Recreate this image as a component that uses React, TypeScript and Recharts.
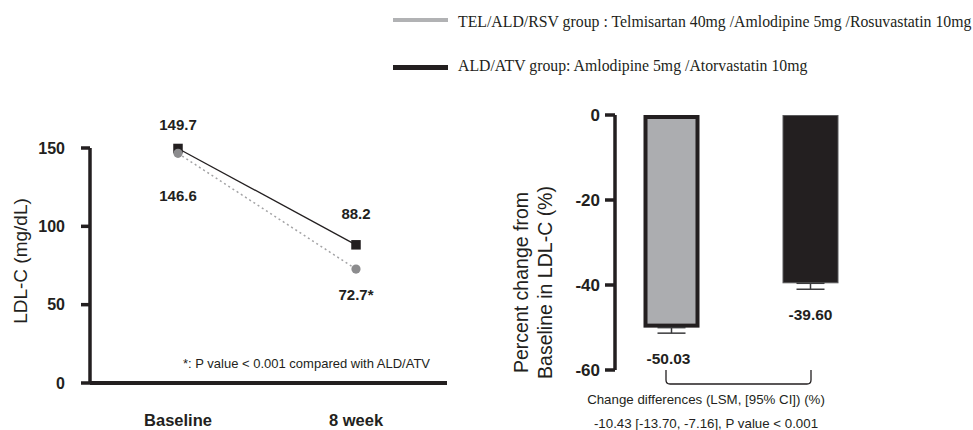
import React from 'react';
import {
  LineChart,
  Line,
  XAxis,
  YAxis,
  BarChart,
  Bar,
  ErrorBar,
  LabelList,
  ReferenceLine,
  Label,
} from 'recharts';

// ---------- data ----------
const timepoints = ['Baseline', '8 week'];
const telAldRsvLdl = [146.6, 72.7];
const aldAtvLdl = [149.7, 88.2];
const telAldRsvLdlLabels = ['146.6', '72.7*'];
const aldAtvLdlLabels = ['149.7', '88.2'];
const ldlTicks = [0, 50, 100, 150];

const groups = ['TEL/ALD/RSV', 'ALD/ATV'];
const pctChange = [-50.03, -39.6];
const pctChangeErr = [1.3, 1.4];
const pctChangeLabels = ['-50.03', '-39.60'];
const pctTicks = [-60, -40, -20, 0];

const legendNames = [
  'TEL/ALD/RSV group : Telmisartan 40mg /Amlodipine 5mg /Rosuvastatin 10mg',
  'ALD/ATV group: Amlodipine 5mg /Atorvastatin 10mg',
];
const footnote = '*: P value < 0.001 compared with ALD/ATV';
const diffTitle = 'Change differences (LSM, [95% CI]) (%)';
const diffValue = '-10.43 [-13.70, -7.16], P value < 0.001';
const leftYTitle = 'LDL-C (mg/dL)';
const rightYTitle = ['Percent change from', 'Baseline in LDL-C (%)'];

// ---------- styles ----------
const INK = '#231f20';
const GREY_BAR = '#acadb0';
const GREY_DOT = '#8c8c8e';
const GREY_LINE = '#a3a3a5';
const SANS = "'Liberation Sans', Arial, Helvetica, sans-serif";
const SERIF = "'Liberation Serif', 'Times New Roman', serif";
const aldLabelDy = [-23.5, -31.5];
const telLabelDy = [42, 25];
const barFills = [GREY_BAR, INK];
const barStrokes = [INK, '#5a5a5c'];
const barStrokeWidths = [4, 1];

const ldlRows = timepoints.map((t, i) => ({
  name: t,
  tel: telAldRsvLdl[i],
  ald: aldAtvLdl[i],
  telLabel: telAldRsvLdlLabels[i],
  aldLabel: aldAtvLdlLabels[i],
}));

const pctRows = groups.map((g, i) => ({
  name: g,
  pct: pctChange[i],
  err: [pctChangeErr[i], 0],
  label: pctChangeLabels[i],
}));

const box = (p: any) => {
  const v = p && p.viewBox && typeof p.viewBox.x === 'number' ? p.viewBox : p;
  return { x: v.x ?? 0, y: v.y ?? 0, width: v.width ?? 0, height: v.height ?? 0 };
};

const idx = (p: any, labels: string[]) =>
  typeof p.index === 'number' ? p.index : Math.max(0, labels.indexOf(String(p.value)));

const squareDot = (p: any) => (
  <rect key={`sq-${p.index}`} x={p.cx - 4.75} y={p.cy - 4.75} width={9.5} height={9.5} fill={INK} />
);
const circleDot = (p: any) => (
  <circle key={`ci-${p.index}`} cx={p.cx} cy={p.cy} r={4.6} fill={GREY_DOT} />
);

const makeLineLabel = (labels: string[], dys: number[]) => (p: any) => {
  const b = box(p);
  const i = idx(p, labels);
  return (
    <text
      key={`lbl-${i}-${labels[i]}`}
      x={b.x}
      y={b.y + dys[i]}
      textAnchor="middle"
      dominantBaseline="central"
      fontFamily={SANS}
      fontSize={15}
      fontWeight={700}
      fill={INK}
    >
      {labels[i]}
    </text>
  );
};

const barShape = (p: any) => {
  let i = groups.indexOf(p?.payload?.name);
  if (i < 0) i = typeof p.index === 'number' ? p.index : 0;
  const sw = barStrokeWidths[i];
  const top = Math.min(p.y, p.y + p.height);
  const h = Math.abs(p.height);
  return (
    <rect
      x={p.x + sw / 2}
      y={top + sw / 2}
      width={Math.max(0, p.width - sw)}
      height={Math.max(0, h - sw)}
      fill={barFills[i]}
      stroke={barStrokes[i]}
      strokeWidth={sw}
    />
  );
};

const barLabel = (p: any) => {
  const b = box(p);
  const i = idx(p, pctChangeLabels);
  const bottom = Math.max(b.y, b.y + b.height);
  return (
    <text
      key={`bl-${i}`}
      x={b.x + b.width / 2 - (i === 0 ? 3 : 0)}
      y={bottom + 31}
      textAnchor="middle"
      dominantBaseline="central"
      fontFamily={SANS}
      fontSize={15.5}
      fontWeight={700}
      fill={INK}
    >
      {pctChangeLabels[i]}
    </text>
  );
};

const bracketShape = (p: any) => {
  const x1 = p.x1 - 5;
  const x2 = p.x2 + 1;
  const y = p.y1;
  const d = `M ${x1} ${y} V ${y + 10} Q ${x1} ${y + 14} ${x1 + 4} ${y + 14} H ${x2 - 4} Q ${x2} ${y + 14} ${x2} ${y + 10} V ${y}`;
  return <path d={d} fill="none" stroke={INK} strokeWidth={1.3} />;
};

const leftYLabel = () => (
  <text
    x={27}
    y={261}
    transform="rotate(-90, 27, 261)"
    textAnchor="middle"
    fontFamily={SANS}
    fontSize={19}
    fill={INK}
  >
    {leftYTitle}
  </text>
);

const rightYLabel = () => (
  <g>
    {rightYTitle.map((t, i) => {
      const x = 48 + i * 23.5;
      return (
        <text
          key={t}
          x={x}
          y={282.5}
          transform={`rotate(-90, ${x}, 282.5)`}
          textAnchor="middle"
          fontFamily={SANS}
          fontSize={19.5}
          fill={INK}
        >
          {t}
        </text>
      );
    })}
  </g>
);

const abs = (left: number, top: number, extra: React.CSSProperties = {}): React.CSSProperties => ({
  position: 'absolute',
  left,
  top,
  ...extra,
});

export default function App() {
  return (
    <div style={{ position: 'absolute', left: 0, top: 0, width: 973, height: 430, background: '#fff', overflow: 'hidden' }}>
      {/* Legend */}
      <div style={abs(393, 18.3, { width: 55, height: 4, background: '#b1b2b4' })} />
      <div style={abs(393, 64.8, { width: 55, height: 5, background: INK })} />
      {legendNames.map((n, i) => (
        <div
          key={n}
          style={abs(458, i === 0 ? 11.7 : 56.4, {
            fontFamily: SERIF,
            fontSize: 15.8,
            lineHeight: '20px',
            color: INK,
            whiteSpace: 'nowrap',
          })}
        >
          {n}
        </div>
      ))}

      {/* Left chart */}
      <div style={abs(0, 0)}>
        <LineChart
          width={460}
          height={430}
          data={ldlRows}
          margin={{ top: 148, right: 13, bottom: 7, left: 0 }}
          style={{ fontFamily: SANS }}
        >
          <XAxis
            dataKey="name"
            scale="point"
            padding={{ left: 88, right: 91 }}
            height={40}
            axisLine={{ stroke: INK, strokeWidth: 4 }}
            tickLine={false}
            tickSize={6}
            tickMargin={25}
            interval={0}
            tick={{ fill: INK, fontSize: 16.5, fontWeight: 700, fontFamily: SANS }}
          />
          <YAxis
            domain={[0, 150]}
            ticks={ldlTicks}
            interval={0}
            width={90}
            axisLine={{ stroke: INK, strokeWidth: 3.5 }}
            tickLine={{ stroke: INK, strokeWidth: 3.5 }}
            tickSize={9}
            tickMargin={16}
            tick={{ fill: INK, fontSize: 16, fontWeight: 700, fontFamily: SANS }}
          >
            <Label content={leftYLabel} />
          </YAxis>
          <Line
            type="linear"
            dataKey="ald"
            stroke={INK}
            strokeWidth={1.3}
            dot={squareDot}
            activeDot={false}
            isAnimationActive={false}
          >
            <LabelList dataKey="aldLabel" content={makeLineLabel(aldAtvLdlLabels, aldLabelDy)} />
          </Line>
          <Line
            type="linear"
            dataKey="tel"
            stroke={GREY_LINE}
            strokeWidth={1.5}
            strokeDasharray="2 3"
            dot={circleDot}
            activeDot={false}
            isAnimationActive={false}
          >
            <LabelList dataKey="telLabel" content={makeLineLabel(telAldRsvLdlLabels, telLabelDy)} />
          </Line>
        </LineChart>
      </div>
      <div
        style={abs(183, 355.5, {
          fontFamily: SANS,
          fontSize: 13,
          lineHeight: '16px',
          color: INK,
          whiteSpace: 'nowrap',
        })}
      >
        {footnote}
      </div>

      {/* Right chart */}
      <div style={abs(480, 0)}>
        <BarChart
          width={400}
          height={430}
          data={pctRows}
          margin={{ top: 115, right: 0, bottom: 60, left: 0 }}
          style={{ fontFamily: SANS }}
        >
          <XAxis dataKey="name" hide padding={{ left: -13.5, right: 0.5 }} />
          <YAxis
            domain={[-60, 0]}
            ticks={pctTicks}
            interval={0}
            width={135}
            axisLine={{ stroke: INK, strokeWidth: 3.5 }}
            tickLine={{ stroke: INK, strokeWidth: 3.5 }}
            tickSize={10}
            tickMargin={5}
            tick={{ fill: INK, fontSize: 17, fontWeight: 700, fontFamily: SANS }}
          >
            <Label content={rightYLabel} />
          </YAxis>
          <Bar dataKey="pct" barSize={56} shape={barShape} isAnimationActive={false}>
            <ErrorBar dataKey="err" width={14} stroke="#3a3a3c" strokeWidth={1.5} direction="y" />
            <LabelList dataKey="label" content={barLabel} />
          </Bar>
          <ReferenceLine
            segment={[
              { x: groups[0], y: -60 },
              { x: groups[1], y: -60 },
            ]}
            ifOverflow="visible"
            shape={bracketShape}
          />
        </BarChart>
      </div>
      <div
        style={abs(556, 392.3, {
          width: 300,
          textAlign: 'center',
          fontFamily: SANS,
          fontSize: 13.3,
          lineHeight: '16px',
          color: INK,
          whiteSpace: 'nowrap',
        })}
      >
        {diffTitle}
      </div>
      <div
        style={abs(556, 415.6, {
          width: 300,
          textAlign: 'center',
          fontFamily: SANS,
          fontSize: 13.3,
          lineHeight: '16px',
          color: INK,
          whiteSpace: 'nowrap',
        })}
      >
        {diffValue}
      </div>
    </div>
  );
}
